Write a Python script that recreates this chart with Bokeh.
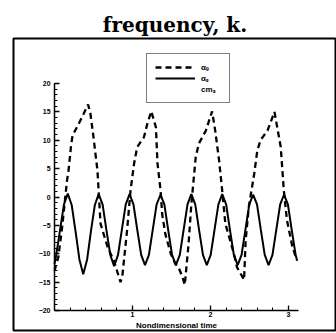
from bokeh.plotting import figure
from bokeh.models import FixedTicker, Legend, LegendItem, Range1d
from bokeh.embed import file_html
from bokeh.resources import INLINE

# Solid curve
solid_t = [0.000, 0.022, 0.071, 0.121, 0.170, 0.220, 0.269, 0.319, 0.368, 0.418,
           0.467, 0.517, 0.566, 0.616, 0.665, 0.715, 0.764, 0.814, 0.863, 0.913,
           0.962, 1.012, 1.061, 1.111, 1.160, 1.210, 1.259, 1.309, 1.358, 1.408,
           1.457, 1.507, 1.556, 1.606, 1.655, 1.705, 1.754, 1.804, 1.853, 1.903,
           1.952, 2.002, 2.051, 2.101, 2.150, 2.200, 2.249, 2.299, 2.348, 2.398,
           2.447, 2.497, 2.546, 2.596, 2.645, 2.695, 2.744, 2.794, 2.843, 2.893,
           2.942, 2.992, 3.041, 3.091, 3.110]
solid_v = [-11.8, -10.2, -5.8, -1.3, 0.6, -1.4, -6.0, -11.0, -13.6, -11.0,
           -6.0, -1.4, 0.5, -1.3, -5.8, -10.2, -12.2, -10.2, -5.8, -1.3,
           0.5, -1.3, -5.8, -10.2, -12.0, -10.2, -5.8, -1.3, 0.4, -1.3,
           -5.8, -10.2, -12.0, -10.2, -5.8, -1.3, 0.5, -1.3, -5.8, -10.2,
           -12.0, -10.2, -5.8, -1.3, 0.5, -1.3, -5.8, -10.2, -12.0, -10.2,
           -5.8, -1.3, 0.4, -1.3, -5.8, -10.2, -12.0, -10.2, -5.8, -1.3,
           0.4, -1.3, -5.8, -10.2, -11.2]

# Dashed curve
dashed_t = [0.00, 0.05, 0.10, 0.16, 0.18, 0.21, 0.23, 0.31, 0.375, 0.43,
            0.46, 0.50, 0.53, 0.55, 0.57, 0.59, 0.68, 0.76, 0.846, 0.868,
            0.93, 0.974, 1.02, 1.06, 1.145, 1.19, 1.24, 1.30, 1.32, 1.36,
            1.38, 1.42, 1.49, 1.55, 1.59, 1.64, 1.67, 1.72, 1.75, 1.77,
            1.81, 1.85, 1.94, 2.02, 2.06, 2.11, 2.15, 2.19, 2.30, 2.34,
            2.43, 2.45, 2.49, 2.56, 2.60, 2.64, 2.73, 2.82, 2.90, 2.94,
            2.98, 3.05, 3.11]
dashed_v = [-13.0, -10.5, -5.0, 2.9, 4.7, 8.8, 10.8, 12.9, 14.7, 16.3,
            14.7, 10.5, 7.0, 4.7, 0.0, -4.7, -8.8, -11.2, -15.0, -14.1,
            -5.9, 1.1, 5.9, 8.8, 10.5, 12.9, 15.1, 12.3, 5.9, 1.1,
            -3.0, -6.5, -10.0, -11.8, -12.4, -14.1, -15.5, -8.0, -2.0, 1.1,
            7.0, 9.4, 11.7, 15.1, 11.7, 6.4, 1.1, -4.7, -10.0, -12.4,
            -14.6, -7.7, -1.8, 4.1, 8.2, 10.0, 11.7, 15.0, 8.8, 1.1,
            -4.1, -8.8, -11.2]

x_major = [1, 2, 3]
x_minor = [0.2, 0.4, 0.6, 0.8, 1.2, 1.4, 1.6, 1.8, 2.2, 2.4, 2.6, 2.8, 3.0]
y_major = [-20, -15, -10, -5, 0, 5, 10, 15, 20]
y_minor = list(range(-20, 21))
legend_labels = ["\u03b1\u2091", "\u03b1\u209b", "cm\u209b"]
title_text = "frequency, k."
x_label = "Nondimensional time"

p = figure(width=336, height=333, output_backend="svg", toolbar_location=None,
           x_range=Range1d(-0.526, 3.615), y_range=Range1d(-23.52, 27.93),
           min_border_left=13, min_border_right=0, min_border_top=38,
           min_border_bottom=3, title=title_text)
p.title.text_font = "DejaVu Serif"
p.title.text_font_size = "20px"
p.title.text_font_style = "bold"
p.title.text_color = "black"
p.title.align = "center"
p.title.vertical_align = "top"
p.title.standoff = 0
p.grid.visible = False
p.outline_line_color = "black"
p.outline_line_width = 2

for ax in (p.xaxis[0], p.yaxis[0]):
    ax.major_tick_in = 5
    ax.major_tick_out = 0
    ax.minor_tick_in = 3
    ax.minor_tick_out = 0
    ax.axis_line_width = 1.5
    ax.major_tick_line_width = 1.3
    ax.minor_tick_line_width = 1
    ax.major_label_text_font = "Liberation Sans"
    ax.major_label_text_font_style = "bold"
    ax.major_label_text_font_size = "7px"
    ax.major_label_text_color = "black"

p.xaxis.fixed_location = -20
p.yaxis.fixed_location = 0
p.xaxis.bounds = (0, 3.13)
p.yaxis.bounds = (-20, 20)
p.xaxis.ticker = FixedTicker(ticks=x_major, minor_ticks=x_minor)
p.yaxis.ticker = FixedTicker(ticks=y_major, minor_ticks=y_minor)
p.xaxis.major_label_standoff = 1
p.yaxis.major_label_standoff = 4
p.xaxis.axis_label = x_label
p.xaxis.axis_label_text_font = "Liberation Sans"
p.xaxis.axis_label_text_font_style = "bold"
p.xaxis.axis_label_text_font_size = "8px"
p.xaxis.axis_label_text_color = "black"
p.xaxis.axis_label_standoff = 1

r_dash = p.line(dashed_t, dashed_v, line_color="black", line_width=2.3, line_dash="6 4")
r_solid = p.line(solid_t, solid_v, line_color="black", line_width=2.0)
r_blank = p.line([], [], line_color="black", line_alpha=0)

legend = Legend(items=[LegendItem(label=legend_labels[0], renderers=[r_dash]),
                       LegendItem(label=legend_labels[1], renderers=[r_solid]),
                       LegendItem(label=legend_labels[2], renderers=[r_blank])],
                location=(133, 227), margin=0, padding=8, spacing=0,
                glyph_width=40, glyph_height=10, label_height=10,
                label_standoff=6, label_text_font_size="8px",
                label_text_font_style="bold", label_text_color="black",
                border_line_color="black", border_line_width=1.5)
p.add_layout(legend)

open("out.html", "w").write(file_html(p, INLINE))
